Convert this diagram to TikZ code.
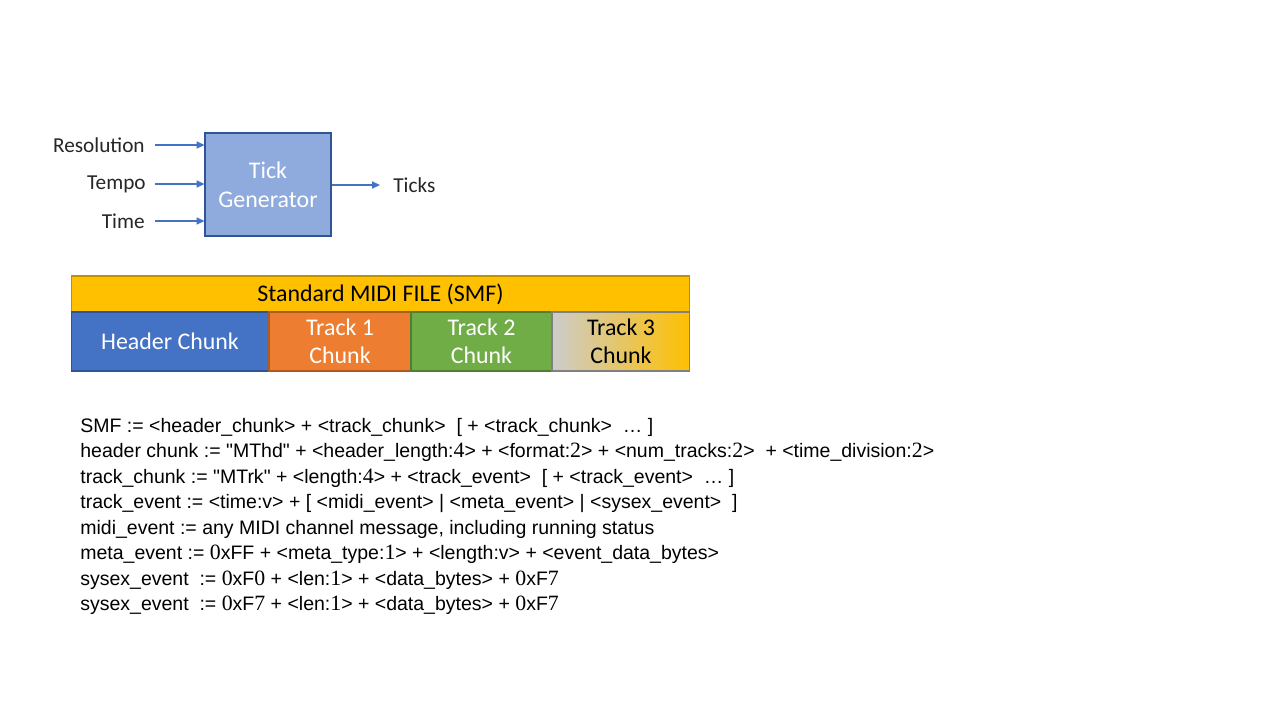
\documentclass[tikz,border=0pt]{standalone}
\usepackage{fontspec}
\setmainfont{Carlito}
\newfontfamily\gramfont{Liberation Sans}
\newfontfamily\digfont[Scale=1.12]{Liberation Serif}
\usepackage{tikz}
\usetikzlibrary{positioning, arrows.meta}
\definecolor{tickfill}{RGB}{143,170,220}
\definecolor{deepblue}{RGB}{47,85,151}
\definecolor{wireblue}{RGB}{68,114,196}
\definecolor{smfgold}{RGB}{255,192,0}
\definecolor{smfedge}{RGB}{191,144,0}
\definecolor{trackorange}{RGB}{237,125,49}
\definecolor{orangeedge}{RGB}{174,90,33}
\definecolor{trackgreen}{RGB}{112,173,71}
\definecolor{greenedge}{RGB}{80,126,50}
\definecolor{palegrey}{RGB}{204,204,204}
\definecolor{inkgrey}{RGB}{38,38,38}
\newcommand{\dg}[1]{{\digfont #1}}

\begin{document}
\begin{tikzpicture}[x=0.02cm, y=-0.02cm,
  lbl/.style={inner sep=0pt, text=inkgrey, font=\fontsize{12.1}{14}\selectfont},
  wire/.style={-{Triangle[length=4.5pt, width=4pt]}, wireblue, line width=0.85pt},
  chunk/.style={draw, line width=0.6pt, minimum height=1.18cm, text=white, align=center,
    font=\fontsize{13.6}{15.9}\selectfont, inner sep=0pt, outer sep=0pt},
  gram/.style={anchor=base west, inner sep=0pt, font=\gramfont\fontsize{11.1}{13}\selectfont}]
\useasboundingbox[fill=white] (0,0) rectangle (1280,720);
% tick generator
\node[draw=deepblue, fill=tickfill, line width=0.6pt, minimum width=2.52cm, minimum height=2.06cm,
  text=white, align=center, font=\fontsize{13.6}{16.4}\selectfont] (tick) at (268,184.5) {Tick\\Generator};
\node[lbl, anchor=east] (res) at (145,145) {Resolution};
\node[lbl, anchor=east] (tempo) at (146,184) {Tempo};
\node[lbl, anchor=east] (time) at (145,221) {Time};
\node[lbl, anchor=west] (ticks) at (393,185) {Ticks};
\draw[wire] ([xshift=0.2cm]res.east) -- (tick.west |- res.east);
\draw[wire] ([xshift=0.18cm]tempo.east) -- (tick.west |- tempo.east);
\draw[wire] ([xshift=0.2cm]time.east) -- (tick.west |- time.east);
\draw[wire] (tick.east |- ticks.west) -- ([xshift=-0.26cm]ticks.west);
% file layout
\node[draw=smfedge, fill=smfgold, line width=0.6pt, minimum width=12.38cm, minimum height=0.72cm,
  inner sep=0pt, outer sep=0pt, font=\fontsize{13.6}{15.9}\selectfont] (smf) at (380.5,294) {Standard MIDI FILE (SMF)};
\node[chunk, draw=deepblue, fill=wireblue, minimum width=3.96cm, anchor=north west] (hdr) at (smf.south west) {Header Chunk};
\node[chunk, draw=orangeedge, fill=trackorange, minimum width=2.84cm, right=0pt of hdr] (trk1) {Track 1\\Chunk};
\node[chunk, draw=greenedge, fill=trackgreen, minimum width=2.82cm, right=0pt of trk1] (trk2) {Track 2\\Chunk};
\node[chunk, draw=gray, left color=palegrey, right color=smfgold, text=black, minimum width=2.76cm, right=0pt of trk2] (trk3) {Track 3\\Chunk};
% grammar
\node[gram] (g1) at (80,432) {SMF := <header\_chunk> + <track\_chunk>~ [ + <track\_chunk>~ \ldots\ ]};
\node[gram] (g2) at (80,457.5) {header chunk := "MThd" + <header\_length:\dg{4}> + <format:\dg{2}> + <num\_tracks:\dg{2}>~ + <time\_division:\dg{2}>};
\node[gram] (g3) at (80,483) {track\_chunk := "MTrk" + <length:\dg{4}> + <track\_event>~ [ + <track\_event>~ \ldots\ ]};
\node[gram] (g4) at (80,508.5) {track\_event := <time:v> + [ <midi\_event> | <meta\_event> | <sysex\_event>~ ]};
\node[gram] (g5) at (80,534) {midi\_event := any MIDI channel message, including running status};
\node[gram] (g6) at (80,559.5) {meta\_event := \dg{0}xFF + <meta\_type:\dg{1}> + <length:v> + <event\_data\_bytes>};
\node[gram] (g7) at (80,585) {sysex\_event~ := \dg{0}xF\dg{0} + <len:\dg{1}> + <data\_bytes> + \dg{0}xF\dg{7}};
\node[gram] (g8) at (80,610.5) {sysex\_event~ := \dg{0}xF\dg{7} + <len:\dg{1}> + <data\_bytes> + \dg{0}xF\dg{7}};
\end{tikzpicture}
\end{document}
